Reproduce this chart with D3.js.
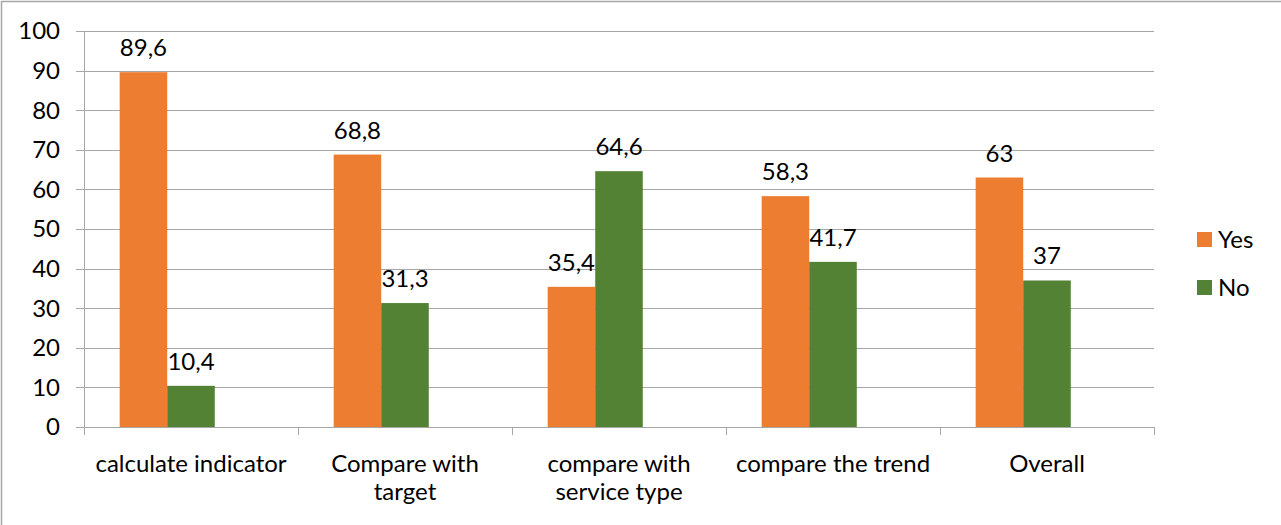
<!DOCTYPE html>
<html>
<head>
<meta charset="utf-8">
<script src="https://cdn.jsdelivr.net/npm/d3@7"></script>
<style>
  body { margin: 0; background: #fff; }
  text { font-family: Lato, "Open Sans", sans-serif; fill: #000; }
</style>
</head>
<body>
<script>
// chart data
var categories = [["calculate indicator"], ["Compare with", "target"], ["compare with", "service type"], ["compare the trend"], ["Overall"]];
var seriesNames = ["Yes", "No"];
var yesValues = [89.6, 68.8, 35.4, 58.3, 63];
var noValues = [10.4, 31.3, 64.6, 41.7, 37];
var yTicks = [0, 10, 20, 30, 40, 50, 60, 70, 80, 90, 100];
var colors = {Yes: "#ED7D31", No: "#548235"};

var width = 1281, height = 525;
var margin = {top: 31, left: 84, right: 127, bottom: 98};
var fontSize = 24;

var svg = d3.select("body").append("svg")
  .attr("width", width)
  .attr("height", height);

// outer frame
svg.append("rect")
  .attr("x", 1.5).attr("y", 1.5)
  .attr("width", width + 10).attr("height", height + 10)
  .attr("fill", "none")
  .attr("stroke", "#a6a6a6")
  .attr("stroke-width", 1.5);

var keys = categories.map(function(c) { return c.join(" "); });

var x0 = d3.scaleBand()
  .domain(keys)
  .range([margin.left, width - margin.right])
  .padding(0);

// three slots, the last one is empty (as in the original chart)
var x1 = d3.scaleBand()
  .domain(["Yes", "No", "_"])
  .range([0, x0.bandwidth()])
  .paddingInner(0)
  .paddingOuter(0.75);

var y = d3.scaleLinear()
  .domain([0, 100])
  .range([height - margin.bottom, margin.top]);

// gridlines
svg.append("g")
  .selectAll("line")
  .data(yTicks)
  .enter().append("line")
  .attr("x1", margin.left - 8)
  .attr("x2", width - margin.right)
  .attr("y1", function(d) { return Math.round(y(d)) + 0.5; })
  .attr("y2", function(d) { return Math.round(y(d)) + 0.5; })
  .attr("stroke", "#a6a6a6")
  .attr("stroke-width", 1);

// y axis labels
svg.append("g")
  .selectAll("text")
  .data(yTicks)
  .enter().append("text")
  .attr("x", margin.left - 24)
  .attr("y", function(d) { return y(d); })
  .attr("dy", "0.35em")
  .attr("text-anchor", "end")
  .attr("font-size", fontSize)
  .text(function(d) { return d; });

// y axis line
svg.append("line")
  .attr("x1", margin.left + 0.5).attr("x2", margin.left + 0.5)
  .attr("y1", margin.top).attr("y2", height - margin.bottom)
  .attr("stroke", "#a6a6a6");

// x tick marks at category boundaries
var bounds = keys.map(function(k) { return x0(k); }).concat([width - margin.right]);
svg.append("g")
  .selectAll("line")
  .data(bounds)
  .enter().append("line")
  .attr("x1", function(d) { return Math.round(d) + 0.5; })
  .attr("x2", function(d) { return Math.round(d) + 0.5; })
  .attr("y1", height - margin.bottom)
  .attr("y2", height - margin.bottom + 8)
  .attr("stroke", "#a6a6a6");

// bars
var rows = keys.map(function(k, i) {
  return {key: k, values: [{name: "Yes", v: yesValues[i]}, {name: "No", v: noValues[i]}]};
});

var groups = svg.append("g")
  .selectAll("g")
  .data(rows)
  .enter().append("g")
  .attr("transform", function(d) { return "translate(" + x0(d.key) + ",0)"; });

groups.selectAll("rect")
  .data(function(d) { return d.values; })
  .enter().append("rect")
  .attr("x", function(d) { return x1(d.name); })
  .attr("y", function(d) { return y(d.v); })
  .attr("width", x1.bandwidth())
  .attr("height", function(d) { return y(0) - y(d.v); })
  .attr("fill", function(d) { return colors[d.name]; });

// value labels
groups.selectAll("text")
  .data(function(d) { return d.values; })
  .enter().append("text")
  .attr("x", function(d) { return x1(d.name) + x1.bandwidth() / 2; })
  .attr("y", function(d) { return y(d.v) - 16; })
  .attr("text-anchor", "middle")
  .attr("font-size", fontSize)
  .text(function(d) { return String(d.v).replace(".", ","); });

// category labels
var catLabels = svg.append("g")
  .selectAll("text")
  .data(categories)
  .enter().append("text")
  .attr("text-anchor", "middle")
  .attr("font-size", fontSize)
  .attr("transform", function(d, i) {
    return "translate(" + (x0(keys[i]) + x0.bandwidth() / 2) + "," + (height - margin.bottom + 45) + ")";
  });

catLabels.selectAll("tspan")
  .data(function(d) { return d; })
  .enter().append("tspan")
  .attr("x", 0)
  .attr("y", function(d, i) { return i * 28; })
  .text(function(d) { return d; });

// legend
var legend = svg.append("g")
  .selectAll("g")
  .data(seriesNames)
  .enter().append("g")
  .attr("transform", function(d, i) { return "translate(1197," + (232 + i * 48) + ")"; });

legend.append("rect")
  .attr("width", 15)
  .attr("height", 15)
  .attr("fill", function(d) { return colors[d]; });

legend.append("text")
  .attr("x", 21)
  .attr("y", 8)
  .attr("dy", "0.35em")
  .attr("font-size", fontSize)
  .text(function(d) { return d; });
</script>
</body>
</html>
